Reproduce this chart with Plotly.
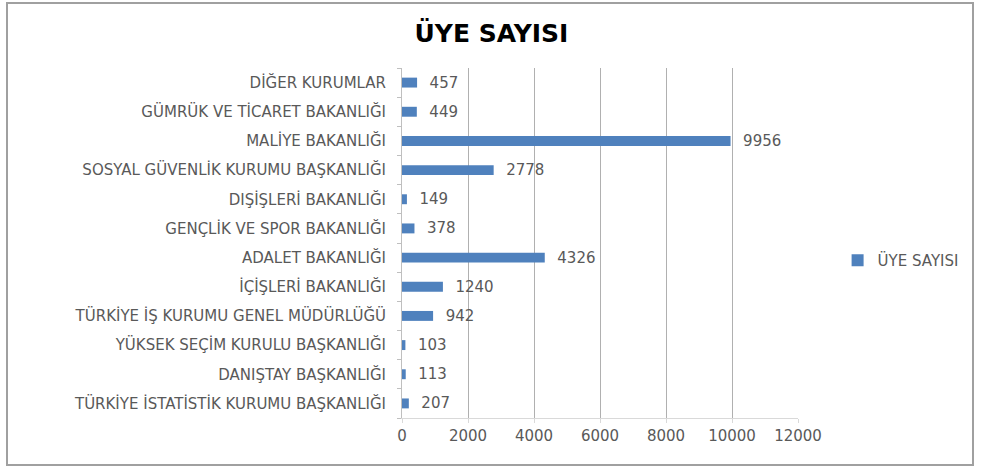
import plotly.graph_objects as go

categories = [
    "TÜRKİYE İSTATİSTİK KURUMU BAŞKANLIĞI",
    "DANIŞTAY BAŞKANLIĞI",
    "YÜKSEK SEÇİM KURULU BAŞKANLIĞI",
    "TÜRKİYE İŞ KURUMU GENEL MÜDÜRLÜĞÜ",
    "İÇİŞLERİ BAKANLIĞI",
    "ADALET BAKANLIĞI",
    "GENÇLİK VE SPOR BAKANLIĞI",
    "DIŞİŞLERİ BAKANLIĞI",
    "SOSYAL GÜVENLİK KURUMU BAŞKANLIĞI",
    "MALİYE BAKANLIĞI",
    "GÜMRÜK VE TİCARET BAKANLIĞI",
    "DİĞER KURUMLAR",
]
values = [207, 113, 103, 942, 1240, 4326, 378, 149, 2778, 9956, 449, 457]
series_name = "ÜYE SAYISI"
x_ticks = [0, 2000, 4000, 6000, 8000, 10000, 12000]

FONT = "DejaVu Sans"
GRAY = "#595959"

fig = go.Figure()
fig.add_trace(go.Bar(
    y=categories,
    x=values,
    orientation="h",
    name=series_name,
    marker=dict(color="#4F81BD", line=dict(width=0)),
    texttemplate="\u00a0\u00a0%{x:d}",
    textposition="outside",
    constraintext="none",
    textfont=dict(family=FONT, size=15, color=GRAY),
    cliponaxis=False,
    showlegend=True,
    hoverinfo="skip",
))

fig.update_layout(
    width=983,
    height=469,
    paper_bgcolor="white",
    plot_bgcolor="white",
    margin=dict(l=402, r=185, t=68, b=51),
    title=dict(
        text="<b>ÜYE SAYISI</b>",
        x=0.5, xanchor="center", xref="container",
        y=1 - 33 / 469, yanchor="middle",
        font=dict(family=FONT, size=25, color="black"),
    ),
    bargap=0.66,
    showlegend=True,
    legend=dict(
        x=1.10, xanchor="left", y=0.45, yanchor="middle",
        font=dict(family=FONT, size=15, color=GRAY),
        itemwidth=30,
    ),
    xaxis=dict(
        range=[0, 12000],
        tickvals=x_ticks,
        ticktext=[str(t) for t in x_ticks],
        showgrid=True,
        gridcolor="#B0B0B0",
        gridwidth=1,
        zeroline=False,
        showline=True,
        linecolor="#D9D9D9",
        ticks="outside",
        ticklen=4,
        tickcolor="#D9D9D9",
        tickfont=dict(family=FONT, size=15, color=GRAY),
        fixedrange=True,
    ),
    yaxis=dict(
        categoryorder="array",
        categoryarray=categories,
        showline=True,
        linecolor="#BFBFBF",
        ticks="outside",
        tickson="boundaries",
        ticklen=4,
        tickcolor="#BFBFBF",
        showgrid=False,
        tickfont=dict(family=FONT, size=15, color=GRAY),
        ticklabelstandoff=12,
        fixedrange=True,
    ),
    shapes=[dict(
        type="rect", xref="paper", yref="paper",
        x0=-395 / 396, x1=1 + 175 / 396,
        y0=-47 / 350, y1=1 + 65 / 350,
        line=dict(color="#A0A0A0", width=2),
        fillcolor="rgba(0,0,0,0)",
        layer="below",
    )],
)

fig.write_html(
    "out.html",
    config={"displayModeBar": False},
    post_script="document.body.style.margin='0';document.body.style.padding='0';",
)
